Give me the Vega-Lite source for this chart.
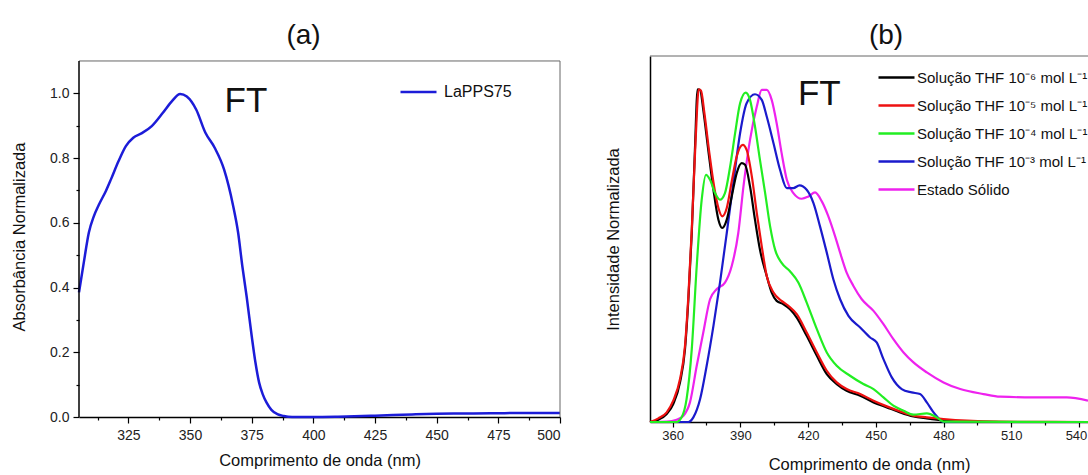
{
  "$schema": "https://vega.github.io/schema/vega-lite/v6.json",
  "padding": {"left": 11, "top": 21, "right": 0, "bottom": 0},
  "spacing": 40,
  "resolve": {"scale": {"color": "independent"}, "legend": {"color": "independent"}},
  "config": {
    "font": "Liberation Sans",
    "view": {"stroke": null},
    "axis": {"grid": false, "domainColor": "#000", "domainWidth": 1.5, "tickColor": "#000", "tickWidth": 1.2, "labelColor": "#222", "titleColor": "#111", "titleFontWeight": "normal", "labelFont": "Liberation Sans", "titleFont": "Liberation Sans"},
    "legend": {"labelFont": "Liberation Sans", "labelColor": "#111"},
    "title": {"fontWeight": "normal", "fontSize": 28, "color": "#111", "font": "Liberation Sans", "anchor": "middle"}
  },
  "datasets": {
    "abs": [
      {"wl": 305, "v": 0.385, "s": "LaPPS75"},
      {"wl": 307, "v": 0.48, "s": "LaPPS75"},
      {"wl": 309, "v": 0.57, "s": "LaPPS75"},
      {"wl": 311, "v": 0.62, "s": "LaPPS75"},
      {"wl": 313, "v": 0.655, "s": "LaPPS75"},
      {"wl": 316, "v": 0.7, "s": "LaPPS75"},
      {"wl": 318, "v": 0.735, "s": "LaPPS75"},
      {"wl": 321, "v": 0.79, "s": "LaPPS75"},
      {"wl": 324, "v": 0.837, "s": "LaPPS75"},
      {"wl": 327, "v": 0.863, "s": "LaPPS75"},
      {"wl": 330.5, "v": 0.877, "s": "LaPPS75"},
      {"wl": 334.5, "v": 0.899, "s": "LaPPS75"},
      {"wl": 339, "v": 0.94, "s": "LaPPS75"},
      {"wl": 342.7, "v": 0.976, "s": "LaPPS75"},
      {"wl": 346, "v": 0.998, "s": "LaPPS75"},
      {"wl": 348.7, "v": 0.99, "s": "LaPPS75"},
      {"wl": 352.5, "v": 0.95, "s": "LaPPS75"},
      {"wl": 356.2, "v": 0.879, "s": "LaPPS75"},
      {"wl": 360, "v": 0.832, "s": "LaPPS75"},
      {"wl": 363.8, "v": 0.765, "s": "LaPPS75"},
      {"wl": 367.5, "v": 0.652, "s": "LaPPS75"},
      {"wl": 369.5, "v": 0.57, "s": "LaPPS75"},
      {"wl": 371.2, "v": 0.467, "s": "LaPPS75"},
      {"wl": 373, "v": 0.37, "s": "LaPPS75"},
      {"wl": 375, "v": 0.251, "s": "LaPPS75"},
      {"wl": 376.5, "v": 0.17, "s": "LaPPS75"},
      {"wl": 378, "v": 0.107, "s": "LaPPS75"},
      {"wl": 379.5, "v": 0.07, "s": "LaPPS75"},
      {"wl": 381, "v": 0.045, "s": "LaPPS75"},
      {"wl": 383, "v": 0.022, "s": "LaPPS75"},
      {"wl": 385.4, "v": 0.009, "s": "LaPPS75"},
      {"wl": 388, "v": 0.003, "s": "LaPPS75"},
      {"wl": 391.4, "v": 0.0, "s": "LaPPS75"},
      {"wl": 400, "v": 0.0, "s": "LaPPS75"},
      {"wl": 410, "v": 0.001, "s": "LaPPS75"},
      {"wl": 425, "v": 0.004, "s": "LaPPS75"},
      {"wl": 440, "v": 0.008, "s": "LaPPS75"},
      {"wl": 450, "v": 0.01, "s": "LaPPS75"},
      {"wl": 465, "v": 0.011, "s": "LaPPS75"},
      {"wl": 480, "v": 0.012, "s": "LaPPS75"},
      {"wl": 500, "v": 0.012, "s": "LaPPS75"}
    ],
    "pl": [
      {"wl": 350, "v": 0, "s": "Estado Sólido"},
      {"wl": 357.4, "v": 0.001, "s": "Estado Sólido"},
      {"wl": 361.8, "v": 0.007, "s": "Estado Sólido"},
      {"wl": 364.8, "v": 0.019, "s": "Estado Sólido"},
      {"wl": 367.7, "v": 0.059, "s": "Estado Sólido"},
      {"wl": 370.7, "v": 0.169, "s": "Estado Sólido"},
      {"wl": 373.6, "v": 0.269, "s": "Estado Sólido"},
      {"wl": 376.6, "v": 0.369, "s": "Estado Sólido"},
      {"wl": 379.5, "v": 0.399, "s": "Estado Sólido"},
      {"wl": 383.2, "v": 0.419, "s": "Estado Sólido"},
      {"wl": 386.2, "v": 0.469, "s": "Estado Sólido"},
      {"wl": 389.1, "v": 0.568, "s": "Estado Sólido"},
      {"wl": 391.4, "v": 0.708, "s": "Estado Sólido"},
      {"wl": 394.3, "v": 0.848, "s": "Estado Sólido"},
      {"wl": 397.3, "v": 0.948, "s": "Estado Sólido"},
      {"wl": 399.5, "v": 0.998, "s": "Estado Sólido"},
      {"wl": 401.7, "v": 0.998, "s": "Estado Sólido"},
      {"wl": 403.9, "v": 0.968, "s": "Estado Sólido"},
      {"wl": 406.1, "v": 0.898, "s": "Estado Sólido"},
      {"wl": 408.3, "v": 0.808, "s": "Estado Sólido"},
      {"wl": 410.6, "v": 0.728, "s": "Estado Sólido"},
      {"wl": 413.5, "v": 0.688, "s": "Estado Sólido"},
      {"wl": 417.2, "v": 0.671, "s": "Estado Sólido"},
      {"wl": 420.2, "v": 0.678, "s": "Estado Sólido"},
      {"wl": 423.1, "v": 0.69, "s": "Estado Sólido"},
      {"wl": 426.1, "v": 0.663, "s": "Estado Sólido"},
      {"wl": 429, "v": 0.618, "s": "Estado Sólido"},
      {"wl": 432, "v": 0.558, "s": "Estado Sólido"},
      {"wl": 434.2, "v": 0.509, "s": "Estado Sólido"},
      {"wl": 437.1, "v": 0.449, "s": "Estado Sólido"},
      {"wl": 440.1, "v": 0.409, "s": "Estado Sólido"},
      {"wl": 443.8, "v": 0.369, "s": "Estado Sólido"},
      {"wl": 449, "v": 0.334, "s": "Estado Sólido"},
      {"wl": 453.4, "v": 0.294, "s": "Estado Sólido"},
      {"wl": 457.8, "v": 0.249, "s": "Estado Sólido"},
      {"wl": 462.3, "v": 0.209, "s": "Estado Sólido"},
      {"wl": 466.7, "v": 0.179, "s": "Estado Sólido"},
      {"wl": 472.6, "v": 0.149, "s": "Estado Sólido"},
      {"wl": 480, "v": 0.119, "s": "Estado Sólido"},
      {"wl": 487.4, "v": 0.099, "s": "Estado Sólido"},
      {"wl": 497.7, "v": 0.084, "s": "Estado Sólido"},
      {"wl": 505.1, "v": 0.076, "s": "Estado Sólido"},
      {"wl": 519.9, "v": 0.074, "s": "Estado Sólido"},
      {"wl": 534.6, "v": 0.074, "s": "Estado Sólido"},
      {"wl": 544, "v": 0.064, "s": "Estado Sólido"},

      {"wl": 350, "v": 0, "s": "Solução THF 10⁻³ mol L⁻¹"},
      {"wl": 367, "v": 0, "s": "Solução THF 10⁻³ mol L⁻¹"},
      {"wl": 369.2, "v": 0.014, "s": "Solução THF 10⁻³ mol L⁻¹"},
      {"wl": 372.2, "v": 0.069, "s": "Solução THF 10⁻³ mol L⁻¹"},
      {"wl": 375.1, "v": 0.169, "s": "Solução THF 10⁻³ mol L⁻¹"},
      {"wl": 378.1, "v": 0.289, "s": "Solução THF 10⁻³ mol L⁻¹"},
      {"wl": 381, "v": 0.419, "s": "Solução THF 10⁻³ mol L⁻¹"},
      {"wl": 384, "v": 0.568, "s": "Solução THF 10⁻³ mol L⁻¹"},
      {"wl": 386.9, "v": 0.718, "s": "Solução THF 10⁻³ mol L⁻¹"},
      {"wl": 389.9, "v": 0.868, "s": "Solução THF 10⁻³ mol L⁻¹"},
      {"wl": 392.8, "v": 0.958, "s": "Solução THF 10⁻³ mol L⁻¹"},
      {"wl": 396.5, "v": 0.985, "s": "Solução THF 10⁻³ mol L⁻¹"},
      {"wl": 399.5, "v": 0.968, "s": "Solução THF 10⁻³ mol L⁻¹"},
      {"wl": 401.7, "v": 0.918, "s": "Solução THF 10⁻³ mol L⁻¹"},
      {"wl": 404.7, "v": 0.838, "s": "Solução THF 10⁻³ mol L⁻¹"},
      {"wl": 407.6, "v": 0.758, "s": "Solução THF 10⁻³ mol L⁻¹"},
      {"wl": 410.6, "v": 0.703, "s": "Solução THF 10⁻³ mol L⁻¹"},
      {"wl": 413.5, "v": 0.703, "s": "Solução THF 10⁻³ mol L⁻¹"},
      {"wl": 416.2, "v": 0.711, "s": "Solução THF 10⁻³ mol L⁻¹"},
      {"wl": 419.4, "v": 0.698, "s": "Solução THF 10⁻³ mol L⁻¹"},
      {"wl": 422.4, "v": 0.658, "s": "Solução THF 10⁻³ mol L⁻¹"},
      {"wl": 425.3, "v": 0.588, "s": "Solução THF 10⁻³ mol L⁻¹"},
      {"wl": 428.3, "v": 0.509, "s": "Solução THF 10⁻³ mol L⁻¹"},
      {"wl": 431.2, "v": 0.429, "s": "Solução THF 10⁻³ mol L⁻¹"},
      {"wl": 434.2, "v": 0.369, "s": "Solução THF 10⁻³ mol L⁻¹"},
      {"wl": 437.9, "v": 0.319, "s": "Solução THF 10⁻³ mol L⁻¹"},
      {"wl": 443.1, "v": 0.284, "s": "Solução THF 10⁻³ mol L⁻¹"},
      {"wl": 447.5, "v": 0.254, "s": "Solução THF 10⁻³ mol L⁻¹"},
      {"wl": 450.4, "v": 0.239, "s": "Solução THF 10⁻³ mol L⁻¹"},
      {"wl": 453.4, "v": 0.189, "s": "Solução THF 10⁻³ mol L⁻¹"},
      {"wl": 457.1, "v": 0.134, "s": "Solução THF 10⁻³ mol L⁻¹"},
      {"wl": 461.5, "v": 0.099, "s": "Solução THF 10⁻³ mol L⁻¹"},
      {"wl": 465.9, "v": 0.089, "s": "Solução THF 10⁻³ mol L⁻¹"},
      {"wl": 469.6, "v": 0.084, "s": "Solução THF 10⁻³ mol L⁻¹"},
      {"wl": 472.6, "v": 0.059, "s": "Solução THF 10⁻³ mol L⁻¹"},
      {"wl": 475.6, "v": 0.029, "s": "Solução THF 10⁻³ mol L⁻¹"},
      {"wl": 478.5, "v": 0.007, "s": "Solução THF 10⁻³ mol L⁻¹"},
      {"wl": 480, "v": 0, "s": "Solução THF 10⁻³ mol L⁻¹"},
      {"wl": 544, "v": 0, "s": "Solução THF 10⁻³ mol L⁻¹"},

      {"wl": 350, "v": 0, "s": "Solução THF 10⁻⁶  mol L⁻¹"},
      {"wl": 353.7, "v": 0.007, "s": "Solução THF 10⁻⁶  mol L⁻¹"},
      {"wl": 357.4, "v": 0.024, "s": "Solução THF 10⁻⁶  mol L⁻¹"},
      {"wl": 360.3, "v": 0.054, "s": "Solução THF 10⁻⁶  mol L⁻¹"},
      {"wl": 363.3, "v": 0.119, "s": "Solução THF 10⁻⁶  mol L⁻¹"},
      {"wl": 365.5, "v": 0.219, "s": "Solução THF 10⁻⁶  mol L⁻¹"},
      {"wl": 367, "v": 0.369, "s": "Solução THF 10⁻⁶  mol L⁻¹"},
      {"wl": 368.5, "v": 0.568, "s": "Solução THF 10⁻⁶  mol L⁻¹"},
      {"wl": 369.9, "v": 0.818, "s": "Solução THF 10⁻⁶  mol L⁻¹"},
      {"wl": 371.1, "v": 1.0, "s": "Solução THF 10⁻⁶  mol L⁻¹"},
      {"wl": 372.2, "v": 0.998, "s": "Solução THF 10⁻⁶  mol L⁻¹"},
      {"wl": 373.6, "v": 0.938, "s": "Solução THF 10⁻⁶  mol L⁻¹"},
      {"wl": 375.8, "v": 0.818, "s": "Solução THF 10⁻⁶  mol L⁻¹"},
      {"wl": 378.1, "v": 0.698, "s": "Solução THF 10⁻⁶  mol L⁻¹"},
      {"wl": 380.3, "v": 0.608, "s": "Solução THF 10⁻⁶  mol L⁻¹"},
      {"wl": 382, "v": 0.583, "s": "Solução THF 10⁻⁶  mol L⁻¹"},
      {"wl": 384, "v": 0.608, "s": "Solução THF 10⁻⁶  mol L⁻¹"},
      {"wl": 386.2, "v": 0.678, "s": "Solução THF 10⁻⁶  mol L⁻¹"},
      {"wl": 388.4, "v": 0.748, "s": "Solução THF 10⁻⁶  mol L⁻¹"},
      {"wl": 390.6, "v": 0.778, "s": "Solução THF 10⁻⁶  mol L⁻¹"},
      {"wl": 392.1, "v": 0.773, "s": "Solução THF 10⁻⁶  mol L⁻¹"},
      {"wl": 394.3, "v": 0.708, "s": "Solução THF 10⁻⁶  mol L⁻¹"},
      {"wl": 396.5, "v": 0.608, "s": "Solução THF 10⁻⁶  mol L⁻¹"},
      {"wl": 398.7, "v": 0.518, "s": "Solução THF 10⁻⁶  mol L⁻¹"},
      {"wl": 401.7, "v": 0.439, "s": "Solução THF 10⁻⁶  mol L⁻¹"},
      {"wl": 403.9, "v": 0.389, "s": "Solução THF 10⁻⁶  mol L⁻¹"},
      {"wl": 406.1, "v": 0.364, "s": "Solução THF 10⁻⁶  mol L⁻¹"},
      {"wl": 409.1, "v": 0.354, "s": "Solução THF 10⁻⁶  mol L⁻¹"},
      {"wl": 412, "v": 0.339, "s": "Solução THF 10⁻⁶  mol L⁻¹"},
      {"wl": 415, "v": 0.314, "s": "Solução THF 10⁻⁶  mol L⁻¹"},
      {"wl": 419.4, "v": 0.259, "s": "Solução THF 10⁻⁶  mol L⁻¹"},
      {"wl": 423.9, "v": 0.199, "s": "Solução THF 10⁻⁶  mol L⁻¹"},
      {"wl": 428.3, "v": 0.144, "s": "Solução THF 10⁻⁶  mol L⁻¹"},
      {"wl": 432.7, "v": 0.114, "s": "Solução THF 10⁻⁶  mol L⁻¹"},
      {"wl": 437.1, "v": 0.094, "s": "Solução THF 10⁻⁶  mol L⁻¹"},
      {"wl": 443.1, "v": 0.079, "s": "Solução THF 10⁻⁶  mol L⁻¹"},
      {"wl": 449, "v": 0.059, "s": "Solução THF 10⁻⁶  mol L⁻¹"},
      {"wl": 454.9, "v": 0.044, "s": "Solução THF 10⁻⁶  mol L⁻¹"},
      {"wl": 460.8, "v": 0.029, "s": "Solução THF 10⁻⁶  mol L⁻¹"},
      {"wl": 466.7, "v": 0.017, "s": "Solução THF 10⁻⁶  mol L⁻¹"},
      {"wl": 472.6, "v": 0.011, "s": "Solução THF 10⁻⁶  mol L⁻¹"},
      {"wl": 480, "v": 0.005, "s": "Solução THF 10⁻⁶  mol L⁻¹"},
      {"wl": 490.3, "v": 0.002, "s": "Solução THF 10⁻⁶  mol L⁻¹"},
      {"wl": 505, "v": 0, "s": "Solução THF 10⁻⁶  mol L⁻¹"},
      {"wl": 544, "v": 0, "s": "Solução THF 10⁻⁶  mol L⁻¹"},

      {"wl": 350, "v": 0, "s": "Solução THF 10⁻⁵ mol L⁻¹"},
      {"wl": 353.7, "v": 0.011, "s": "Solução THF 10⁻⁵ mol L⁻¹"},
      {"wl": 357.4, "v": 0.029, "s": "Solução THF 10⁻⁵ mol L⁻¹"},
      {"wl": 360.3, "v": 0.064, "s": "Solução THF 10⁻⁵ mol L⁻¹"},
      {"wl": 363.3, "v": 0.129, "s": "Solução THF 10⁻⁵ mol L⁻¹"},
      {"wl": 365.5, "v": 0.229, "s": "Solução THF 10⁻⁵ mol L⁻¹"},
      {"wl": 367, "v": 0.379, "s": "Solução THF 10⁻⁵ mol L⁻¹"},
      {"wl": 368.5, "v": 0.578, "s": "Solução THF 10⁻⁵ mol L⁻¹"},
      {"wl": 370.2, "v": 0.848, "s": "Solução THF 10⁻⁵ mol L⁻¹"},
      {"wl": 371.6, "v": 1.0, "s": "Solução THF 10⁻⁵ mol L⁻¹"},
      {"wl": 372.6, "v": 0.996, "s": "Solução THF 10⁻⁵ mol L⁻¹"},
      {"wl": 374.1, "v": 0.928, "s": "Solução THF 10⁻⁵ mol L⁻¹"},
      {"wl": 376.3, "v": 0.808, "s": "Solução THF 10⁻⁵ mol L⁻¹"},
      {"wl": 378.4, "v": 0.708, "s": "Solução THF 10⁻⁵ mol L⁻¹"},
      {"wl": 380.3, "v": 0.643, "s": "Solução THF 10⁻⁵ mol L⁻¹"},
      {"wl": 382, "v": 0.618, "s": "Solução THF 10⁻⁵ mol L⁻¹"},
      {"wl": 384, "v": 0.643, "s": "Solução THF 10⁻⁵ mol L⁻¹"},
      {"wl": 386.2, "v": 0.723, "s": "Solução THF 10⁻⁵ mol L⁻¹"},
      {"wl": 388.4, "v": 0.798, "s": "Solução THF 10⁻⁵ mol L⁻¹"},
      {"wl": 391.1, "v": 0.833, "s": "Solução THF 10⁻⁵ mol L⁻¹"},
      {"wl": 392.8, "v": 0.818, "s": "Solução THF 10⁻⁵ mol L⁻¹"},
      {"wl": 395.1, "v": 0.738, "s": "Solução THF 10⁻⁵ mol L⁻¹"},
      {"wl": 397.3, "v": 0.628, "s": "Solução THF 10⁻⁵ mol L⁻¹"},
      {"wl": 399.5, "v": 0.528, "s": "Solução THF 10⁻⁵ mol L⁻¹"},
      {"wl": 401.7, "v": 0.439, "s": "Solução THF 10⁻⁵ mol L⁻¹"},
      {"wl": 404.7, "v": 0.389, "s": "Solução THF 10⁻⁵ mol L⁻¹"},
      {"wl": 408.3, "v": 0.364, "s": "Solução THF 10⁻⁵ mol L⁻¹"},
      {"wl": 411.3, "v": 0.349, "s": "Solução THF 10⁻⁵ mol L⁻¹"},
      {"wl": 415, "v": 0.324, "s": "Solução THF 10⁻⁵ mol L⁻¹"},
      {"wl": 419.4, "v": 0.269, "s": "Solução THF 10⁻⁵ mol L⁻¹"},
      {"wl": 423.9, "v": 0.209, "s": "Solução THF 10⁻⁵ mol L⁻¹"},
      {"wl": 428.3, "v": 0.154, "s": "Solução THF 10⁻⁵ mol L⁻¹"},
      {"wl": 432.7, "v": 0.119, "s": "Solução THF 10⁻⁵ mol L⁻¹"},
      {"wl": 437.1, "v": 0.099, "s": "Solução THF 10⁻⁵ mol L⁻¹"},
      {"wl": 443.1, "v": 0.084, "s": "Solução THF 10⁻⁵ mol L⁻¹"},
      {"wl": 449, "v": 0.064, "s": "Solução THF 10⁻⁵ mol L⁻¹"},
      {"wl": 454.9, "v": 0.047, "s": "Solução THF 10⁻⁵ mol L⁻¹"},
      {"wl": 460.8, "v": 0.032, "s": "Solução THF 10⁻⁵ mol L⁻¹"},
      {"wl": 466.7, "v": 0.019, "s": "Solução THF 10⁻⁵ mol L⁻¹"},
      {"wl": 472.6, "v": 0.014, "s": "Solução THF 10⁻⁵ mol L⁻¹"},
      {"wl": 480, "v": 0.009, "s": "Solução THF 10⁻⁵ mol L⁻¹"},
      {"wl": 490.3, "v": 0.004, "s": "Solução THF 10⁻⁵ mol L⁻¹"},
      {"wl": 505, "v": 0.001, "s": "Solução THF 10⁻⁵ mol L⁻¹"},
      {"wl": 544, "v": 0, "s": "Solução THF 10⁻⁵ mol L⁻¹"},

      {"wl": 350, "v": 0, "s": "Solução THF 10⁻⁴ mol L⁻¹"},
      {"wl": 361.8, "v": 0, "s": "Solução THF 10⁻⁴ mol L⁻¹"},
      {"wl": 364, "v": 0.014, "s": "Solução THF 10⁻⁴ mol L⁻¹"},
      {"wl": 366.2, "v": 0.069, "s": "Solução THF 10⁻⁴ mol L⁻¹"},
      {"wl": 368.5, "v": 0.219, "s": "Solução THF 10⁻⁴ mol L⁻¹"},
      {"wl": 370.7, "v": 0.469, "s": "Solução THF 10⁻⁴ mol L⁻¹"},
      {"wl": 372.9, "v": 0.668, "s": "Solução THF 10⁻⁴ mol L⁻¹"},
      {"wl": 374.8, "v": 0.743, "s": "Solução THF 10⁻⁴ mol L⁻¹"},
      {"wl": 376.6, "v": 0.728, "s": "Solução THF 10⁻⁴ mol L⁻¹"},
      {"wl": 378.8, "v": 0.688, "s": "Solução THF 10⁻⁴ mol L⁻¹"},
      {"wl": 381, "v": 0.668, "s": "Solução THF 10⁻⁴ mol L⁻¹"},
      {"wl": 383.2, "v": 0.688, "s": "Solução THF 10⁻⁴ mol L⁻¹"},
      {"wl": 385.5, "v": 0.768, "s": "Solução THF 10⁻⁴ mol L⁻¹"},
      {"wl": 387.7, "v": 0.868, "s": "Solução THF 10⁻⁴ mol L⁻¹"},
      {"wl": 389.9, "v": 0.958, "s": "Solução THF 10⁻⁴ mol L⁻¹"},
      {"wl": 392.4, "v": 0.99, "s": "Solução THF 10⁻⁴ mol L⁻¹"},
      {"wl": 394.3, "v": 0.968, "s": "Solução THF 10⁻⁴ mol L⁻¹"},
      {"wl": 396.5, "v": 0.888, "s": "Solução THF 10⁻⁴ mol L⁻¹"},
      {"wl": 398.7, "v": 0.788, "s": "Solução THF 10⁻⁴ mol L⁻¹"},
      {"wl": 401, "v": 0.688, "s": "Solução THF 10⁻⁴ mol L⁻¹"},
      {"wl": 403.2, "v": 0.588, "s": "Solução THF 10⁻⁴ mol L⁻¹"},
      {"wl": 405.4, "v": 0.518, "s": "Solução THF 10⁻⁴ mol L⁻¹"},
      {"wl": 408.3, "v": 0.478, "s": "Solução THF 10⁻⁴ mol L⁻¹"},
      {"wl": 412, "v": 0.453, "s": "Solução THF 10⁻⁴ mol L⁻¹"},
      {"wl": 415.7, "v": 0.419, "s": "Solução THF 10⁻⁴ mol L⁻¹"},
      {"wl": 419.4, "v": 0.359, "s": "Solução THF 10⁻⁴ mol L⁻¹"},
      {"wl": 423.9, "v": 0.279, "s": "Solução THF 10⁻⁴ mol L⁻¹"},
      {"wl": 428.3, "v": 0.209, "s": "Solução THF 10⁻⁴ mol L⁻¹"},
      {"wl": 432.7, "v": 0.169, "s": "Solução THF 10⁻⁴ mol L⁻¹"},
      {"wl": 438.6, "v": 0.139, "s": "Solução THF 10⁻⁴ mol L⁻¹"},
      {"wl": 444.5, "v": 0.114, "s": "Solução THF 10⁻⁴ mol L⁻¹"},
      {"wl": 449, "v": 0.099, "s": "Solução THF 10⁻⁴ mol L⁻¹"},
      {"wl": 453.4, "v": 0.074, "s": "Solução THF 10⁻⁴ mol L⁻¹"},
      {"wl": 457.8, "v": 0.049, "s": "Solução THF 10⁻⁴ mol L⁻¹"},
      {"wl": 462.3, "v": 0.034, "s": "Solução THF 10⁻⁴ mol L⁻¹"},
      {"wl": 466.7, "v": 0.022, "s": "Solução THF 10⁻⁴ mol L⁻¹"},
      {"wl": 472.6, "v": 0.026, "s": "Solução THF 10⁻⁴ mol L⁻¹"},
      {"wl": 477, "v": 0.014, "s": "Solução THF 10⁻⁴ mol L⁻¹"},
      {"wl": 480, "v": 0.001, "s": "Solução THF 10⁻⁴ mol L⁻¹"},
      {"wl": 544, "v": 0, "s": "Solução THF 10⁻⁴ mol L⁻¹"}
    ]
  },
  "hconcat": [
    {
      "width": 481,
      "height": 361,
      "title": {"text": "(a)", "offset": 6, "dx": -16},
      "layer": [
        {
          "data": {"name": "abs"},
          "mark": {"type": "line", "strokeWidth": 2.5, "interpolate": "monotone"},
          "encoding": {
            "x": {"field": "wl", "type": "quantitative", "scale": {"domain": [305, 500], "nice": false, "zero": false},
                  "axis": {"values": [325, 350, 375, 400, 425, 450, 475, 500], "title": "Comprimento de onda (nm)", "tickSize": 6, "labelPadding": 5, "labelFontSize": 14, "titleFontSize": 16.5, "titlePadding": 10}},
            "y": {"field": "v", "type": "quantitative", "scale": {"domain": [0, 1.1154], "nice": false},
                  "axis": {"values": [0, 0.2, 0.4, 0.6, 0.8, 1.0], "format": ".1f", "domain": false, "title": "Absorbância Normalizada", "tickSize": 6, "labelPadding": 4, "labelFontSize": 14, "titleFontSize": 16.5, "titlePadding": 22}},
            "color": {"field": "s", "type": "nominal", "scale": {"domain": ["LaPPS75"], "range": ["#1c1cd8"]},
                      "legend": {"title": null, "orient": "none", "legendX": 320, "legendY": 16.5, "symbolType": "stroke", "symbolSize": 1296, "symbolStrokeWidth": 2.5, "labelFontSize": 16, "labelOffset": 6}}
          }
        },
        {
          "data": {"values": [{}]},
          "mark": {"type": "text", "text": "FT", "fontSize": 35, "align": "center", "baseline": "middle", "color": "#111"},
          "encoding": {
            "x": {"datum": 372.7, "type": "quantitative", "axis": {"orient": "bottom", "values": [312.5, 337.5, 362.5, 387.5, 412.5, 437.5, 462.5, 487.5], "labels": false, "domain": false, "tickSize": 3, "title": null}},
            "y": {"datum": 0.975, "type": "quantitative", "axis": {"orient": "left", "values": [0.1, 0.3, 0.5, 0.7, 0.9], "labels": false, "domain": false, "tickSize": 3, "title": null}}
          }
        },
        {
          "data": {"values": [{}]},
          "mark": {"type": "rule", "color": "#666", "strokeWidth": 1},
          "encoding": {"y": {"datum": 1.1, "type": "quantitative", "axis": null}}
        },
        {
          "data": {"values": [{}]},
          "mark": {"type": "rule", "color": "#666", "strokeWidth": 1},
          "encoding": {"x": {"datum": 500, "type": "quantitative", "axis": null}, "y": {"datum": 0, "type": "quantitative", "axis": null}, "y2": {"datum": 1.1}}
        },
        {
          "data": {"values": [{}]},
          "mark": {"type": "rule", "color": "#000", "strokeWidth": 1.5},
          "encoding": {"x": {"datum": 305, "type": "quantitative", "axis": null}, "y": {"datum": 0, "type": "quantitative", "axis": null}, "y2": {"datum": 1.1}}
        }
      ],
      "resolve": {"axis": {"x": "independent", "y": "independent"}}
    },
    {
      "width": 438,
      "height": 366,
      "title": {"text": "(b)", "offset": 6, "dx": 17},
      "layer": [
        {
          "data": {"name": "pl"},
          "mark": {"type": "line", "strokeWidth": 2.2, "interpolate": "monotone"},
          "encoding": {
            "x": {"field": "wl", "type": "quantitative", "scale": {"domain": [350, 544], "nice": false, "zero": false},
                  "axis": {"values": [360, 390, 420, 450, 480, 510, 540], "title": "Comprimento de onda (nm)", "tickSize": 5, "labelPadding": 2, "labelFontSize": 13, "titleFontSize": 16.5, "titlePadding": 14,
                           "labelOffset": {"condition": {"test": "datum.value == 540", "value": -3}, "value": 0}}},
            "y": {"field": "v", "type": "quantitative", "scale": {"domain": [0, 1.1], "nice": false},
                  "axis": {"title": "Intensidade Normalizada", "labels": false, "ticks": false, "titleFontSize": 16.5, "titlePadding": 29}},
            "color": {"field": "s", "type": "nominal",
                      "scale": {"domain": ["Solução THF 10⁻⁶  mol L⁻¹", "Solução THF 10⁻⁵ mol L⁻¹", "Solução THF 10⁻⁴ mol L⁻¹", "Solução THF 10⁻³ mol L⁻¹", "Estado Sólido"],
                                "range": ["#000000", "#ee1111", "#22ee22", "#1a1acc", "#ee22ee"]},
                      "legend": {"title": null, "orient": "none", "legendX": 227, "legendY": 2, "symbolType": "stroke", "symbolSize": 1296, "symbolStrokeWidth": 2.5, "labelFontSize": 15, "labelOffset": 1, "labelLimit": 400, "rowPadding": -1}}
          }
        },
        {
          "data": {"values": [{}]},
          "mark": {"type": "text", "text": "FT", "fontSize": 35, "align": "center", "baseline": "middle", "color": "#111"},
          "encoding": {
            "x": {"datum": 425, "type": "quantitative", "axis": {"orient": "bottom", "values": [375, 405, 435, 465, 495, 525], "labels": false, "domain": false, "tickSize": 3, "title": null}},
            "y": {"datum": 0.985, "type": "quantitative", "axis": null}
          }
        },
        {
          "data": {"values": [{}]},
          "mark": {"type": "rule", "color": "#666", "strokeWidth": 1},
          "encoding": {"y": {"datum": 1.1, "type": "quantitative", "axis": null}}
        }
      ],
      "resolve": {"axis": {"x": "independent", "y": "independent"}}
    }
  ]
}
